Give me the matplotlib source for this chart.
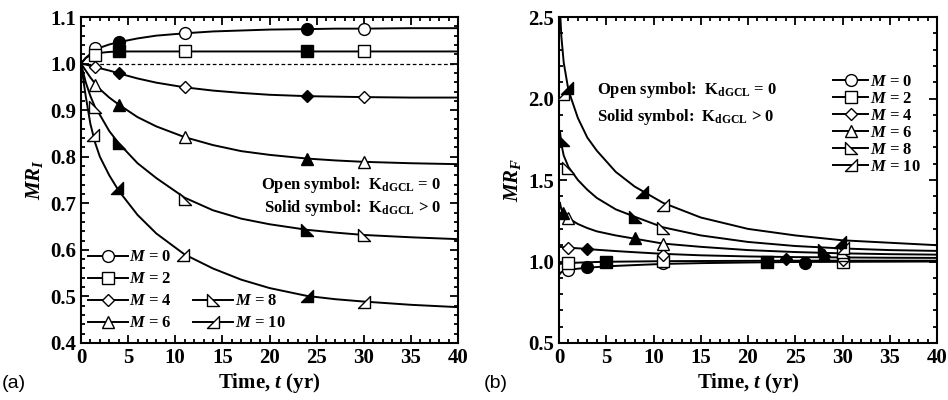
import matplotlib
matplotlib.use('Agg')
import matplotlib.pyplot as plt
from matplotlib.path import Path
from matplotlib.lines import Line2D
from matplotlib.ticker import MultipleLocator, FormatStrFormatter

plt.rcParams['font.family'] = 'Liberation Serif'
plt.rcParams['font.weight'] = 'bold'
plt.rcParams['mathtext.fontset'] = 'custom'
plt.rcParams['mathtext.rm'] = 'Liberation Serif:bold'
plt.rcParams['mathtext.it'] = 'Liberation Serif:italic:bold'
plt.rcParams['mathtext.bf'] = 'Liberation Serif:bold'

# ---------------- data: (a) MR_I ----------------
m_values = [0, 2, 4, 6, 8, 10]

t_line_I = [0, 0.5, 1, 1.5, 2, 3, 4, 6, 8, 11, 14, 17, 20, 24, 27, 30, 35, 40]
line_I = {
    0:  [1.0, 1.012, 1.021, 1.03, 1.034, 1.041, 1.046, 1.054, 1.060, 1.065, 1.069, 1.071, 1.073, 1.074, 1.075, 1.075, 1.076, 1.076],
    2:  [1.0, 1.012, 1.018, 1.021, 1.023, 1.025, 1.026, 1.026, 1.026, 1.026, 1.026, 1.026, 1.026, 1.026, 1.026, 1.026, 1.026, 1.026],
    4:  [1.0, 0.998, 0.995, 0.993, 0.990, 0.985, 0.979, 0.968, 0.959, 0.949, 0.942, 0.937, 0.933, 0.930, 0.929, 0.928, 0.927, 0.927],
    6:  [1.0, 0.985, 0.970, 0.957, 0.945, 0.927, 0.912, 0.885, 0.865, 0.842, 0.825, 0.812, 0.804, 0.796, 0.792, 0.789, 0.786, 0.784],
    8:  [1.0, 0.960, 0.930, 0.906, 0.890, 0.855, 0.829, 0.786, 0.754, 0.712, 0.685, 0.667, 0.655, 0.643, 0.637, 0.632, 0.627, 0.623],
    10: [1.0, 0.930, 0.870, 0.830, 0.800, 0.760, 0.727, 0.675, 0.635, 0.590, 0.560, 0.536, 0.518, 0.501, 0.494, 0.489, 0.482, 0.477],
}
open_t_I = {0: [1.5, 11, 30], 2: [1.5, 11, 30], 4: [1.5, 11, 30], 6: [1.5, 11, 30], 8: [1.5, 11, 30], 10: [1.25, 10.8, 30]}
open_v_I = {0: [1.033, 1.065, 1.075], 2: [1.018, 1.026, 1.026], 4: [0.993, 0.949, 0.928],
            6: [0.955, 0.842, 0.789], 8: [0.906, 0.710, 0.632], 10: [0.847, 0.589, 0.489]}
solid_t_I = {0: [4, 24], 2: [4, 24], 4: [4, 24], 6: [4, 24], 8: [4, 24], 10: [3.8, 24]}
solid_v_I = {0: [1.047, 1.074], 2: [1.026, 1.026], 4: [0.979, 0.930],
             6: [0.912, 0.796], 8: [0.829, 0.643], 10: [0.732, 0.501]}

# ---------------- data: (b) MR_F ----------------
t_line_F = [0.1, 0.25, 0.5, 1, 2, 3, 4, 6, 8, 11, 15, 20, 25, 30, 35, 40]
line_F = {
    0:  [0.925, 0.935, 0.942, 0.948, 0.956, 0.962, 0.966, 0.973, 0.978, 0.985, 0.990, 0.994, 0.997, 0.998, 0.999, 1.0],
    2:  [0.985, 0.987, 0.988, 0.990, 0.993, 0.995, 0.997, 0.999, 1.0, 1.002, 1.003, 1.004, 1.005, 1.005, 1.005, 1.005],
    4:  [1.09, 1.089, 1.087, 1.085, 1.081, 1.077, 1.072, 1.064, 1.057, 1.047, 1.038, 1.031, 1.027, 1.025, 1.023, 1.022],
    6:  [1.36, 1.32, 1.29, 1.265, 1.23, 1.205, 1.185, 1.16, 1.14, 1.11, 1.09, 1.07, 1.058, 1.05, 1.045, 1.042],
    8:  [1.80, 1.72, 1.65, 1.58, 1.50, 1.44, 1.39, 1.32, 1.275, 1.21, 1.16, 1.12, 1.095, 1.08, 1.07, 1.065],
    10: [2.55, 2.38, 2.22, 2.05, 1.88, 1.76, 1.68, 1.55, 1.46, 1.36, 1.27, 1.20, 1.16, 1.13, 1.115, 1.10],
}
open_t_F = {0: [0.9, 11, 30], 2: [0.9, 11, 30], 4: [0.9, 11, 30], 6: [0.9, 11, 30], 8: [0.95, 11, 30], 10: [0.4, 11, 30]}
open_v_F = {0: [0.948, 0.99, 0.995], 2: [0.99, 1.005, 1.0], 4: [1.085, 1.04, 1.01],
            6: [1.265, 1.105, 1.04], 8: [1.574, 1.204, 1.06], 10: [2.03, 1.347, 1.08]}
solid_t_F = {0: [3, 26], 2: [5, 22], 4: [3, 24], 6: [0.45, 8, 28], 8: [0.4, 8, 28], 10: [0.8, 8.8, 29.7]}
solid_v_F = {0: [0.964, 0.993], 2: [0.999, 0.999], 4: [1.077, 1.013],
             6: [1.30, 1.142, 1.04], 8: [1.745, 1.275, 1.07], 10: [2.063, 1.428, 1.12]}

# ---------------- markers ----------------
tri8 = Path([(-1, 1), (-1, -1), (1, -1), (-1, 1)],
            [Path.MOVETO, Path.LINETO, Path.LINETO, Path.CLOSEPOLY])
tri10 = Path([(1, 1), (1, -1), (-1, -1), (1, 1)],
             [Path.MOVETO, Path.LINETO, Path.LINETO, Path.CLOSEPOLY])
markers = {0: 'o', 2: 's', 4: 'D', 6: '^', 8: tri8, 10: tri10}
msizes = {0: 8.5, 2: 8, 4: 6.5, 6: 8.5, 8: 8, 10: 8}

fig = plt.figure(figsize=(9.48, 4.0), dpi=100)
ax1 = fig.add_axes([81/948, 57/400, 377/948, 326/400])
ax2 = fig.add_axes([559/948, 57/400, 378/948, 326/400])


def style_axis(ax):
    for s in ax.spines.values():
        s.set_linewidth(1.5)
    ax.tick_params(which='both', direction='in', top=True, right=True, labelsize=15, width=1.3)
    ax.tick_params(which='major', length=6)
    ax.tick_params(which='minor', length=3)
    for lab in ax.get_xticklabels() + ax.get_yticklabels():
        lab.set_fontweight('bold')


def draw_panel(ax, t_line, lines, ot, ov, st, sv):
    for m in m_values:
        ax.plot(t_line, lines[m], color='k', lw=1.4, zorder=2)
        ax.plot(ot[m], ov[m], ls='none', marker=markers[m], ms=msizes[m],
                mfc='white', mec='k', mew=1.0, zorder=3)
        ax.plot(st[m], sv[m], ls='none', marker=markers[m], ms=msizes[m],
                mfc='k', mec='k', mew=1.0, zorder=4)


def handle(m):
    return Line2D([], [], color='k', lw=1.4, marker=markers[m], ms=msizes[m],
                  mfc='white', mec='k', mew=1.0)


# ---------- panel (a) ----------
draw_panel(ax1, t_line_I, line_I, open_t_I, open_v_I, solid_t_I, solid_v_I)
ax1.axhline(1.0, color='k', lw=0.9, ls=(0, (3, 2)), zorder=1)
ax1.set_xlim(0, 40)
ax1.set_ylim(0.4, 1.1)
ax1.xaxis.set_major_locator(MultipleLocator(5))
ax1.xaxis.set_minor_locator(MultipleLocator(1))
ax1.yaxis.set_major_locator(MultipleLocator(0.1))
ax1.yaxis.set_minor_locator(MultipleLocator(0.02))
ax1.yaxis.set_major_formatter(FormatStrFormatter('%.1f'))
style_axis(ax1)
ax1.set_xlabel('Time, $t$ (yr)', fontsize=15, fontweight='bold', labelpad=2)
ax1.set_ylabel('$MR_I$', fontsize=15, labelpad=4)
ax1.text(0.955, 0.485, r'Open symbol:  K$_{\rm dGCL}$ = 0', transform=ax1.transAxes,
         ha='right', va='center', fontsize=12, fontweight='bold')
ax1.text(0.955, 0.414, r'Solid symbol:  K$_{\rm dGCL}$ > 0', transform=ax1.transAxes,
         ha='right', va='center', fontsize=12, fontweight='bold')

leg_kw = dict(frameon=False, fontsize=12, handlelength=2.4, handletextpad=0.1,
              borderaxespad=0.2, borderpad=0.2)
leg1 = ax1.legend([handle(m) for m in [0, 2, 4, 6]],
                  ['$M$ = %d' % m for m in [0, 2, 4, 6]],
                  loc='lower left', bbox_to_anchor=(0.0, 0.015), labelspacing=0.36, **leg_kw)
ax1.add_artist(leg1)
ax1.legend([handle(m) for m in [8, 10]], ['$M$ = %d' % m for m in [8, 10]],
           loc='lower left', bbox_to_anchor=(0.28, 0.015), labelspacing=0.36, **leg_kw)

# ---------- panel (b) ----------
draw_panel(ax2, t_line_F, line_F, open_t_F, open_v_F, solid_t_F, solid_v_F)
ax2.set_xlim(0, 40)
ax2.set_ylim(0.5, 2.5)
ax2.xaxis.set_major_locator(MultipleLocator(5))
ax2.xaxis.set_minor_locator(MultipleLocator(1))
ax2.yaxis.set_major_locator(MultipleLocator(0.5))
ax2.yaxis.set_minor_locator(MultipleLocator(0.1))
ax2.yaxis.set_major_formatter(FormatStrFormatter('%.1f'))
style_axis(ax2)
ax2.set_xlabel('Time, $t$ (yr)', fontsize=15, fontweight='bold', labelpad=2)
ax2.set_ylabel('$MR_F$', fontsize=15, labelpad=4)
ax2.text(0.1, 0.776, r'Open symbol:  K$_{\rm dGCL}$ = 0', transform=ax2.transAxes,
         ha='left', va='center', fontsize=12, fontweight='bold')
ax2.text(0.1, 0.694, r'Solid symbol:  K$_{\rm dGCL}$ > 0', transform=ax2.transAxes,
         ha='left', va='center', fontsize=12, fontweight='bold')
ax2.legend([handle(m) for m in m_values], ['$M$ = %d' % m for m in m_values],
           loc='upper right', bbox_to_anchor=(0.975, 0.845), labelspacing=0.06,
           **dict(leg_kw, handlelength=2.1))

fig.text(2/948, 1 - 383/400, '(a)', fontsize=14, family='Liberation Sans',
         fontweight='normal', va='center', ha='left')
fig.text(484/948, 1 - 383/400, '(b)', fontsize=14, family='Liberation Sans',
         fontweight='normal', va='center', ha='left')

fig.savefig('out.png', dpi=100)
